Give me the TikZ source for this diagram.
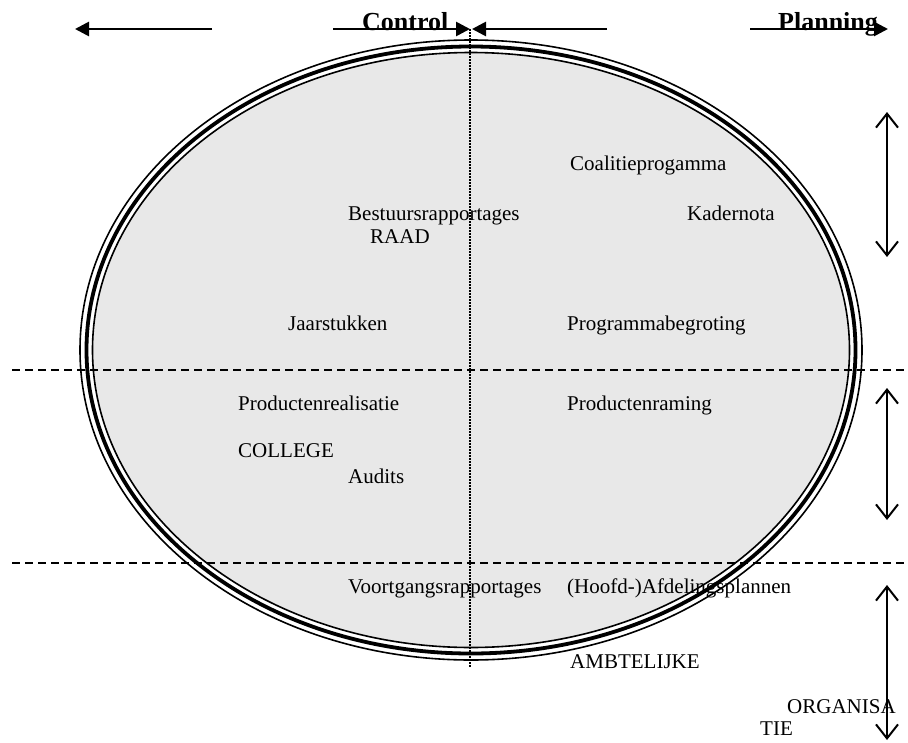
\documentclass[tikz,border=0pt]{standalone}
\usepackage{fontspec}
\setmainfont{Liberation Serif}
\usetikzlibrary{arrows.meta}
\definecolor{cyclefill}{RGB}{232,232,232}
\begin{document}
\begin{tikzpicture}[x=1pt,y=-1pt,
  lbl/.style={inner sep=0pt, anchor=base west, font=\fontsize{21}{25}\selectfont},
  headlbl/.style={inner sep=0pt, anchor=base west, font=\fontsize{26}{30}\selectfont\bfseries},
  toparrow/.style={line width=2.7pt, -{Triangle[length=14pt,width=14pt]}},
  levelspan/.style={line width=2pt, {Straight Barb[length=14pt,width=22pt]}-{Straight Barb[length=14pt,width=22pt]}},
  divider/.style={line width=1.5pt, dash pattern=on 8pt off 5pt},
  midline/.style={line width=1.5pt, dash pattern=on 1.5pt off 1.5pt}]
\useasboundingbox (0,0) rectangle (908,742);

% planning & control cycle: grey body with a triple rim
\fill[cyclefill] (471,350) ellipse [x radius=378.5pt, y radius=297.5pt];
\draw[line width=1.6pt] (471,350) ellipse [x radius=391pt, y radius=310pt];
\draw[line width=3.8pt] (471,350) ellipse [x radius=384.5pt, y radius=303.5pt];
\draw[line width=1.6pt] (471,350) ellipse [x radius=378.5pt, y radius=297.5pt];

% level boundaries
\coordinate (d1a) at (12,370);  \coordinate (d1b) at (908,370);
\coordinate (d2a) at (12,563);  \coordinate (d2b) at (908,563);
\draw[divider] (d1a) -- (d1b);
\draw[divider] (d2a) -- (d2b);

% labels
\node[lbl] (coal)    at (570,170) {Coalitieprogamma};
\node[lbl] (best)    at (348,220) {Bestuursrapportages};
\node[lbl] (kader)   at (687,220) {Kadernota};
\node[lbl] (raad)    at (370,243) {RAAD};
\node[lbl] (jaar)    at (288,330) {Jaarstukken};
\node[lbl] (progr)   at (567,330) {Programmabegroting};
\node[lbl] (preal)   at (238,410) {Productenrealisatie};
\node[lbl] (praming) at (567,410) {Productenraming};
\node[lbl] (college) at (238,457) {COLLEGE};
\node[lbl] (audits)  at (348,483) {Audits};
\node[lbl] (voort)   at (348,593) {Voortgangsrapportages};
\node[lbl] (afd)     at (567,593) {(Hoofd-)Afdelingsplannen};
\node[lbl] (ambt)    at (570,668) {AMBTELIJKE};
\node[lbl] (organ)   at (787,713) {ORGANISA};
\node[lbl] (tie)     at (760,735) {TIE};

% control / planning split
\coordinate (mtop) at (470,29);
\coordinate (mbot) at (470,668);
\draw[midline] (mtop) -- (mbot);

% headings and direction arrows
\node[headlbl] (control)  at (362,30) {Control};
\node[headlbl] (planning) at (778,30) {Planning};
\coordinate (la0) at (212,29);  \coordinate (la1) at (75,29);
\coordinate (ca0) at (333,29);  \coordinate (ca1) at (470,29);
\coordinate (pa0) at (607,29);  \coordinate (pa1) at (472,29);
\coordinate (pl0) at (750,29);  \coordinate (pl1) at (888,29);
\draw[toparrow] (la0) -- (la1);
\draw[toparrow] (ca0) -- (ca1);
\draw[toparrow] (pa0) -- (pa1);
\draw[toparrow] (pl0) -- (pl1);

% level ranges
\coordinate (r1a) at (887,112); \coordinate (r1b) at (887,257);
\coordinate (r2a) at (887,388); \coordinate (r2b) at (887,520);
\coordinate (r3a) at (887,585); \coordinate (r3b) at (887,740);
\draw[levelspan] (r1a) -- (r1b);
\draw[levelspan] (r2a) -- (r2b);
\draw[levelspan] (r3a) -- (r3b);
\end{tikzpicture}
\end{document}
